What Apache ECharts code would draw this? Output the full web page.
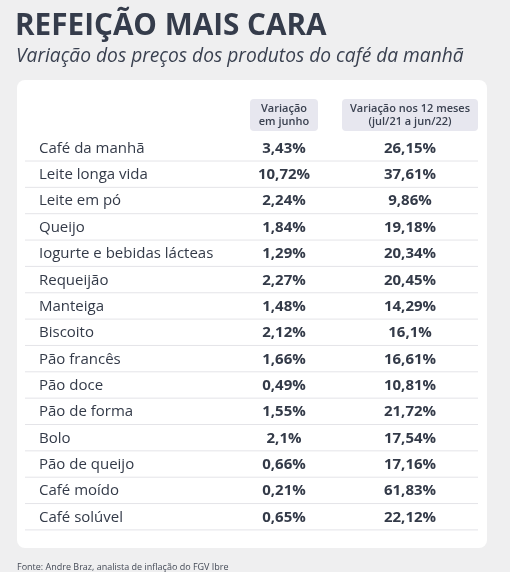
<!DOCTYPE html>
<html><head><meta charset="utf-8">
<script src="https://cdn.jsdelivr.net/npm/echarts@6/dist/echarts.min.js"></script>
<style>html,body{margin:0;padding:0;background:#efeff0;}#c{width:510px;height:572px;}</style>
</head><body><div id="c"></div>
<script>
const title = "REFEIÇÃO MAIS CARA";
const subtitle = "Variação dos preços dos produtos do café da manhã";
const headers = ["Variação\nem junho", "Variação nos 12 meses\n(jul/21 a jun/22)"];
const categories = ["Café da manhã","Leite longa vida","Leite em pó","Queijo","Iogurte e bebidas lácteas","Requeijão","Manteiga","Biscoito","Pão francês","Pão doce","Pão de forma","Bolo","Pão de queijo","Café moído","Café solúvel"];
const june = ["3,43%","10,72%","2,24%","1,84%","1,29%","2,27%","1,48%","2,12%","1,66%","0,49%","1,55%","2,1%","0,66%","0,21%","0,65%"];
const year = ["26,15%","37,61%","9,86%","19,18%","20,34%","20,45%","14,29%","16,1%","16,61%","10,81%","21,72%","17,54%","17,16%","61,83%","22,12%"];
const source = "Fonte: Andre Braz, analista de inflação do FGV Ibre";

const chart = echarts.init(document.getElementById('c'), null, {renderer:'canvas'});
const F = "'Open Sans', sans-serif";
const dark = '#333a48';
const els = [];
els.push({type:'rect', shape:{x:17,y:80,width:470,height:468,r:8}, style:{fill:'#ffffff'}});
els.push({type:'text', x:15, y:12, style:{text:title, font:"bold 29.7px "+F, fill:'#353c4b'}});
els.push({type:'text', x:16, y:47, style:{text:subtitle, font:"italic 19.2px "+F, fill:'#3a4150'}});
els.push({type:'rect', shape:{x:250,y:99,width:68,height:32,r:4}, style:{fill:'#e7e7ef'}});
els.push({type:'rect', shape:{x:342,y:99,width:136,height:32,r:4}, style:{fill:'#e7e7ef'}});
els.push({type:'text', x:284, y:115, style:{text:headers[0], font:"600 11px "+F, fill:'#3a4150', align:'center', verticalAlign:'middle', lineHeight:13}});
els.push({type:'text', x:410, y:115, style:{text:headers[1], font:"600 11px "+F, fill:'#3a4150', align:'center', verticalAlign:'middle', lineHeight:13}});
const y0 = 148.5, dy = 26.35;
categories.forEach((c,i)=>{
  const y = y0 + i*dy;
  els.push({type:'text', x:39, y:y, style:{text:c, font:"15px "+F, fill:dark, verticalAlign:'middle'}});
  els.push({type:'text', x:284, y:y, style:{text:june[i], font:"bold 15px "+F, fill:dark, align:'center', verticalAlign:'middle'}});
  els.push({type:'text', x:410, y:y, style:{text:year[i], font:"bold 15px "+F, fill:dark, align:'center', verticalAlign:'middle'}});
  els.push({type:'line', shape:{x1:25,y1:y+12.5,x2:478,y2:y+12.5}, style:{stroke:'#e4e4e8', lineWidth:1}});
});
els.push({type:'text', x:17, y:563, style:{text:source, font:"9px "+F, fill:'#444a56'}});
chart.setOption({backgroundColor:'#efeff0', graphic:{elements:els}});
</script></body></html>
